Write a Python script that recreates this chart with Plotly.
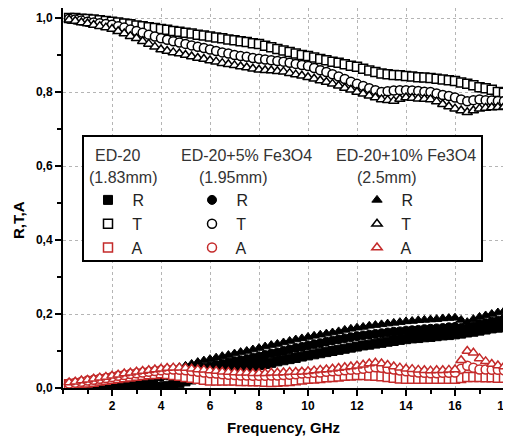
import plotly.graph_objects as go

freq = [0.25,0.5,0.75,1.0,1.25,1.5,1.75,2.0,2.25,2.5,2.75,3.0,3.25,3.5,3.75,4.0,
        4.25,4.5,4.75,5.0,5.25,5.5,5.75,6.0,6.25,6.5,6.75,7.0,7.25,7.5,7.75,8.0,
        8.25,8.5,8.75,9.0,9.25,9.5,9.75,10.0,10.25,10.5,10.75,11.0,11.25,11.5,11.75,12.0,
        12.25,12.5,12.75,13.0,13.25,13.5,13.75,14.0,14.25,14.5,14.75,15.0,15.25,15.5,15.75,16.0,
        16.25,16.5,16.75,17.0,17.25,17.5,17.75,18.0]

T_ed20 = [1.000,1.000,0.998,0.997, 0.996,0.994,0.992,0.990, 0.988,0.985,0.983,0.980,
          0.978,0.975,0.973,0.970, 0.968,0.965,0.963,0.960, 0.958,0.955,0.953,0.950,
          0.947,0.945,0.942,0.940, 0.937,0.935,0.932,0.930, 0.925,0.921,0.916,0.912,
          0.908,0.904,0.900,0.897, 0.893,0.889,0.886,0.882, 0.879,0.875,0.871,0.868,
          0.863,0.858,0.854,0.850, 0.848,0.846,0.845,0.843, 0.842,0.840,0.839,0.838,
          0.836,0.834,0.832,0.830, 0.826,0.822,0.818,0.813, 0.810,0.806,0.800,0.798]

T_5 = [0.998,0.996,0.993,0.990, 0.988,0.986,0.984,0.982, 0.978,0.974,0.969,0.965,
       0.960,0.955,0.950,0.945, 0.941,0.937,0.934,0.930, 0.926,0.922,0.919,0.915,
       0.911,0.907,0.904,0.900, 0.897,0.895,0.892,0.890, 0.888,0.886,0.884,0.882,
       0.879,0.876,0.873,0.870, 0.865,0.859,0.854,0.848, 0.842,0.835,0.828,0.822,
       0.816,0.810,0.805,0.800, 0.802,0.804,0.805,0.805, 0.804,0.803,0.801,0.800,
       0.796,0.792,0.789,0.785, 0.780,0.775,0.778,0.780, 0.778,0.777,0.776,0.775]

T_10 = [0.995,0.992,0.988,0.985, 0.981,0.978,0.974,0.970, 0.964,0.958,0.951,0.945,
        0.937,0.930,0.922,0.915, 0.911,0.907,0.904,0.900, 0.896,0.892,0.889,0.885,
        0.882,0.878,0.875,0.872, 0.869,0.866,0.863,0.860, 0.859,0.858,0.856,0.855,
        0.851,0.847,0.844,0.840, 0.836,0.831,0.827,0.822, 0.817,0.811,0.806,0.800,
        0.795,0.790,0.785,0.780, 0.778,0.776,0.781,0.785, 0.784,0.782,0.781,0.780,
        0.774,0.767,0.761,0.755, 0.750,0.745,0.750,0.755, 0.757,0.758,0.759,0.760]

R_10 = [0.000,0.003,0.006,0.008, 0.011,0.014,0.017,0.020, 0.023,0.026,0.029,0.032,
        0.035,0.038,0.042,0.045, 0.049,0.052,0.056,0.060, 0.065,0.070,0.074,0.078,
        0.082,0.086,0.089,0.093, 0.097,0.100,0.104,0.108, 0.112,0.116,0.119,0.123,
        0.127,0.131,0.134,0.138, 0.141,0.144,0.147,0.150, 0.153,0.157,0.160,0.163,
        0.165,0.168,0.170,0.172, 0.174,0.176,0.178,0.180, 0.181,0.183,0.184,0.185,
        0.186,0.188,0.189,0.190, 0.184,0.178,0.186,0.192, 0.196,0.200,0.204,0.208]

R_5 = [0.000,0.000,0.001,0.002, 0.004,0.006,0.008,0.010, 0.012,0.015,0.017,0.020,
       0.022,0.025,0.027,0.030, 0.034,0.038,0.041,0.045, 0.048,0.051,0.055,0.058,
       0.062,0.065,0.069,0.072, 0.075,0.078,0.082,0.085, 0.089,0.093,0.096,0.100,
       0.104,0.108,0.111,0.115, 0.118,0.121,0.125,0.128, 0.131,0.134,0.137,0.140,
       0.142,0.144,0.146,0.148, 0.150,0.152,0.153,0.155, 0.156,0.157,0.159,0.160,
       0.161,0.162,0.164,0.165, 0.162,0.160,0.166,0.172, 0.175,0.179,0.182,0.186]

R_ed20 = [0.000,0.000,0.000,0.000, 0.000,0.001,0.001,0.001, 0.001,0.002,0.002,0.002,
          0.002,0.003,0.003,0.003, 0.005,0.008,0.013,0.018, 0.023,0.028,0.033,0.038,
          0.041,0.044,0.047,0.050, 0.053,0.056,0.059,0.062, 0.065,0.068,0.072,0.075,
          0.078,0.081,0.085,0.088, 0.091,0.094,0.097,0.100, 0.103,0.106,0.109,0.112,
          0.115,0.117,0.120,0.122, 0.125,0.127,0.130,0.132, 0.134,0.135,0.137,0.138,
          0.140,0.142,0.143,0.145, 0.147,0.150,0.152,0.155, 0.158,0.161,0.163,0.166]

A_ed20 = [0.010,0.011,0.013,0.015, 0.017,0.020,0.022,0.025, 0.027,0.029,0.031,0.033,
          0.035,0.037,0.038,0.040, 0.038,0.035,0.033,0.030, 0.028,0.025,0.022,0.020,
          0.020,0.020,0.020,0.020, 0.019,0.019,0.018,0.018, 0.017,0.016,0.017,0.018,
          0.019,0.021,0.023,0.025, 0.026,0.027,0.029,0.030, 0.031,0.033,0.034,0.035,
          0.035,0.034,0.033,0.032, 0.030,0.028,0.026,0.025, 0.025,0.025,0.025,0.025,
          0.025,0.025,0.025,0.025, 0.027,0.030,0.030,0.030, 0.029,0.029,0.028,0.028]

A_5 = [0.012,0.014,0.017,0.020, 0.022,0.025,0.027,0.030, 0.033,0.035,0.038,0.040,
       0.042,0.044,0.046,0.048, 0.049,0.050,0.049,0.048, 0.046,0.044,0.042,0.040,
       0.039,0.037,0.036,0.035, 0.034,0.034,0.033,0.033, 0.033,0.034,0.034,0.035,
       0.036,0.037,0.039,0.040, 0.041,0.042,0.044,0.045, 0.046,0.048,0.049,0.050,
       0.052,0.054,0.056,0.055, 0.052,0.050,0.047,0.045, 0.044,0.042,0.041,0.040,
       0.040,0.041,0.041,0.042, 0.052,0.060,0.055,0.050, 0.050,0.049,0.049,0.048]

A_10 = [0.015,0.017,0.020,0.022, 0.025,0.028,0.030,0.033, 0.036,0.039,0.041,0.044,
        0.046,0.048,0.050,0.052, 0.054,0.055,0.055,0.054, 0.052,0.050,0.049,0.047,
        0.046,0.044,0.043,0.042, 0.041,0.041,0.040,0.040, 0.040,0.041,0.041,0.042,
        0.043,0.043,0.044,0.045, 0.047,0.049,0.050,0.052, 0.054,0.056,0.058,0.060,
        0.063,0.066,0.068,0.066, 0.062,0.058,0.055,0.052, 0.051,0.049,0.048,0.047,
        0.048,0.048,0.049,0.050, 0.075,0.100,0.095,0.080, 0.072,0.065,0.061,0.058]

y_ticks = [0.0, 0.2, 0.4, 0.6, 0.8, 1.0]
y_ticktext = ["0,0", "0,2", "0,4", "0,6", "0,8", "1,0"]
x_ticks = [2, 4, 6, 8, 10, 12, 14, 16, 18]
x_ticktext = ["2", "4", "6", "8", "10", "12", "14", "16", "18"]

samples = [
    ("ED-20", "(1.83mm)", "square", R_ed20, T_ed20, A_ed20, "legend"),
    ("ED-20+5% Fe3O4", "(1.95mm)", "circle", R_5, T_5, A_5, "legend2"),
    ("ED-20+10% Fe3O4", "(2.5mm)", "triangle-up", R_10, T_10, A_10, "legend3"),
]

RED = "#c42a2a"
FONT = "Liberation Sans, Arial, sans-serif"
fig = go.Figure()

for name, th, sym, R, T, A, lg in samples:
    fig.add_trace(go.Scatter(x=freq, y=R, mode="markers", name=" R", legend=lg,
                             marker=dict(symbol=sym, size=9, color="black",
                                         line=dict(color="black", width=1))))
for name, th, sym, R, T, A, lg in samples:
    fig.add_trace(go.Scatter(x=freq, y=T, mode="markers", name=" T", legend=lg,
                             marker=dict(symbol=sym, size=9, color="white",
                                         line=dict(color="black", width=1.5))))
for name, th, sym, R, T, A, lg in samples:
    fig.add_trace(go.Scatter(x=freq, y=A, mode="markers", name=" A", legend=lg,
                             marker=dict(symbol=sym, size=9, color="white",
                                         line=dict(color=RED, width=1.5))))

# page geometry (the page body adds an 8 px offset to the figure)
OFF = 8
W, H = 511 - OFF, 444 - OFF
L = 63; PW = 441; PT = 8; PB = 388; PH = PB - PT
def px(xp): return (xp - L) / PW
def py(yp): return (PB - yp) / PH

leg_font = dict(family=FONT, size=16, color="#222")
common_leg = dict(bgcolor="rgba(0,0,0,0)", borderwidth=0, font=leg_font,
                  xanchor="left", yanchor="top", tracegroupgap=0)

axis_common = dict(ticks="outside", ticklen=6, tickwidth=2, tickcolor="black",
                   showline=True, linecolor="black", linewidth=2, mirror=False,
                   showgrid=True, gridcolor="#b5b5b5", griddash="dot", gridwidth=1,
                   zeroline=False, automargin=False,
                   tickfont=dict(family=FONT, size=12, color="black", weight="bold"))

fig.update_layout(
    width=W, height=H,
    margin=dict(l=L - OFF, r=W - (L - OFF) - PW, t=PT - OFF, b=H - (PB - OFF)),
    paper_bgcolor="white", plot_bgcolor="white",
    font=dict(family=FONT, color="black"),
    legend=dict(x=px(88), y=py(183), **common_leg),
    legend2=dict(x=px(192), y=py(183), **common_leg),
    legend3=dict(x=px(357), y=py(183), **common_leg),
    xaxis=dict(range=[0, 18], tickmode="array", tickvals=x_ticks, ticktext=x_ticktext,
               minor=dict(ticks="outside", ticklen=4, tickwidth=1.5, tickcolor="black",
                          dtick=1, tick0=1, showgrid=False), **axis_common),
    yaxis=dict(range=[0, PH / 370], tickmode="array", tickvals=y_ticks, ticktext=y_ticktext,
               minor=dict(ticks="outside", ticklen=4, tickwidth=1.5, tickcolor="black",
                          dtick=0.1, tick0=0, showgrid=False), **axis_common),
)

fig.add_shape(type="rect", xref="paper", yref="paper",
              x0=px(83), x1=px(482), y0=py(261), y1=py(136),
              line=dict(color="black", width=2), fillcolor="white", layer="above")

hdr_font = dict(family=FONT, size=16, color="#333")
for (name, th, *_), cx1, cx2 in zip(samples, [117, 246, 406], [123, 233, 387]):
    fig.add_annotation(x=px(cx1), y=py(155), xref="paper", yref="paper", text=name,
                       showarrow=False, font=hdr_font, xanchor="center", yanchor="middle")
    fig.add_annotation(x=px(cx2), y=py(177), xref="paper", yref="paper", text=th,
                       showarrow=False, font=hdr_font, xanchor="center", yanchor="middle")

fig.add_annotation(x=0.5, y=py(427), xref="paper", yref="paper", text="Frequency, GHz",
                   showarrow=False, xanchor="center", yanchor="middle",
                   font=dict(family=FONT, size=15, color="black", weight="bold"))
fig.add_annotation(x=px(19), y=py(220), xref="paper", yref="paper", text="R,T,A",
                   showarrow=False, xanchor="center", yanchor="middle", textangle=-90,
                   font=dict(family=FONT, size=15, color="black", weight="bold"))

fig.write_html("out.html")
